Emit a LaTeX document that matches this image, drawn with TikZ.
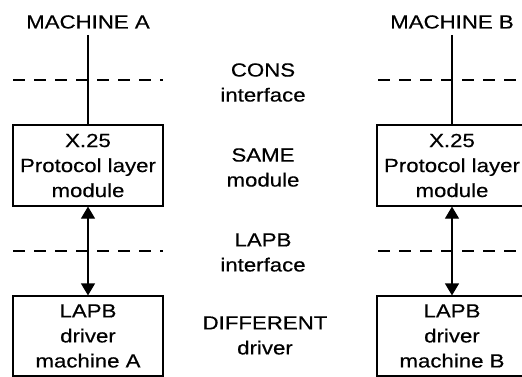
\documentclass[tikz,border=0pt]{standalone}
\usepackage{fontspec}
\setmainfont{Liberation Sans}[FakeStretch=1.17,FakeBold=0.4]
\usetikzlibrary{arrows.meta}
\begin{document}
\begin{tikzpicture}[
    x=1pt, y=-1pt,
    every node/.style={font=\fontsize{19}{25}\selectfont, align=center},
    layerbox/.style={draw, line width=1.2pt, minimum width=150pt, inner sep=0pt},
    machine/.style={anchor=base, inner sep=6pt},
    iface/.style={dash pattern=on 12pt off 9pt, line width=1.2pt},
    link/.style={line width=1.2pt},
    dblarrow/.style={{Triangle[width=14pt,length=12pt]}-{Triangle[width=14pt,length=12pt]}, line width=1.2pt}
]
    % Page frame
    \useasboundingbox (0,0) rectangle (522,377);
    \clip (0,0) rectangle (522,377);

    % Machine titles
    \node[machine] (machA) at (88,28.5) {MACHINE A};
    \node[machine] (machB) at (452,28.5) {MACHINE B};

    % Interface lines
    \draw[iface] (13,80) -- (163,80);
    \draw[iface] (378,80) -- (522,80);
    \draw[iface] (13,251) -- (163,251);
    \draw[iface] (378,251) -- (522,251);

    % Layer boxes
    \node[layerbox, minimum height=81pt] (x25A) at (88,165.5) {X.25\\Protocol layer\\module};
    \node[layerbox, minimum height=81pt] (x25B) at (452,165.5) {X.25\\Protocol layer\\module};
    \node[layerbox, minimum height=80pt] (lapbA) at (88,336) {LAPB\\driver\\machine A};
    \node[layerbox, minimum height=80pt] (lapbB) at (452,336) {LAPB\\driver\\machine B};

    % Middle column labels
    \node (cons) at (263,82.5) {CONS\\interface};
    \node (same) at (263,167.5) {SAME\\module};
    \node (lapbif) at (263,252.5) {LAPB\\interface};
    \node (diff) at (265,335.5) {DIFFERENT\\driver};

    % Connectors
    \draw[link] (machA.south) -- (x25A.north);
    \draw[link] (machB.south) -- (x25B.north);
    \draw[dblarrow] (x25A.south) -- (lapbA.north);
    \draw[dblarrow] (x25B.south) -- (lapbB.north);
\end{tikzpicture}
\end{document}
